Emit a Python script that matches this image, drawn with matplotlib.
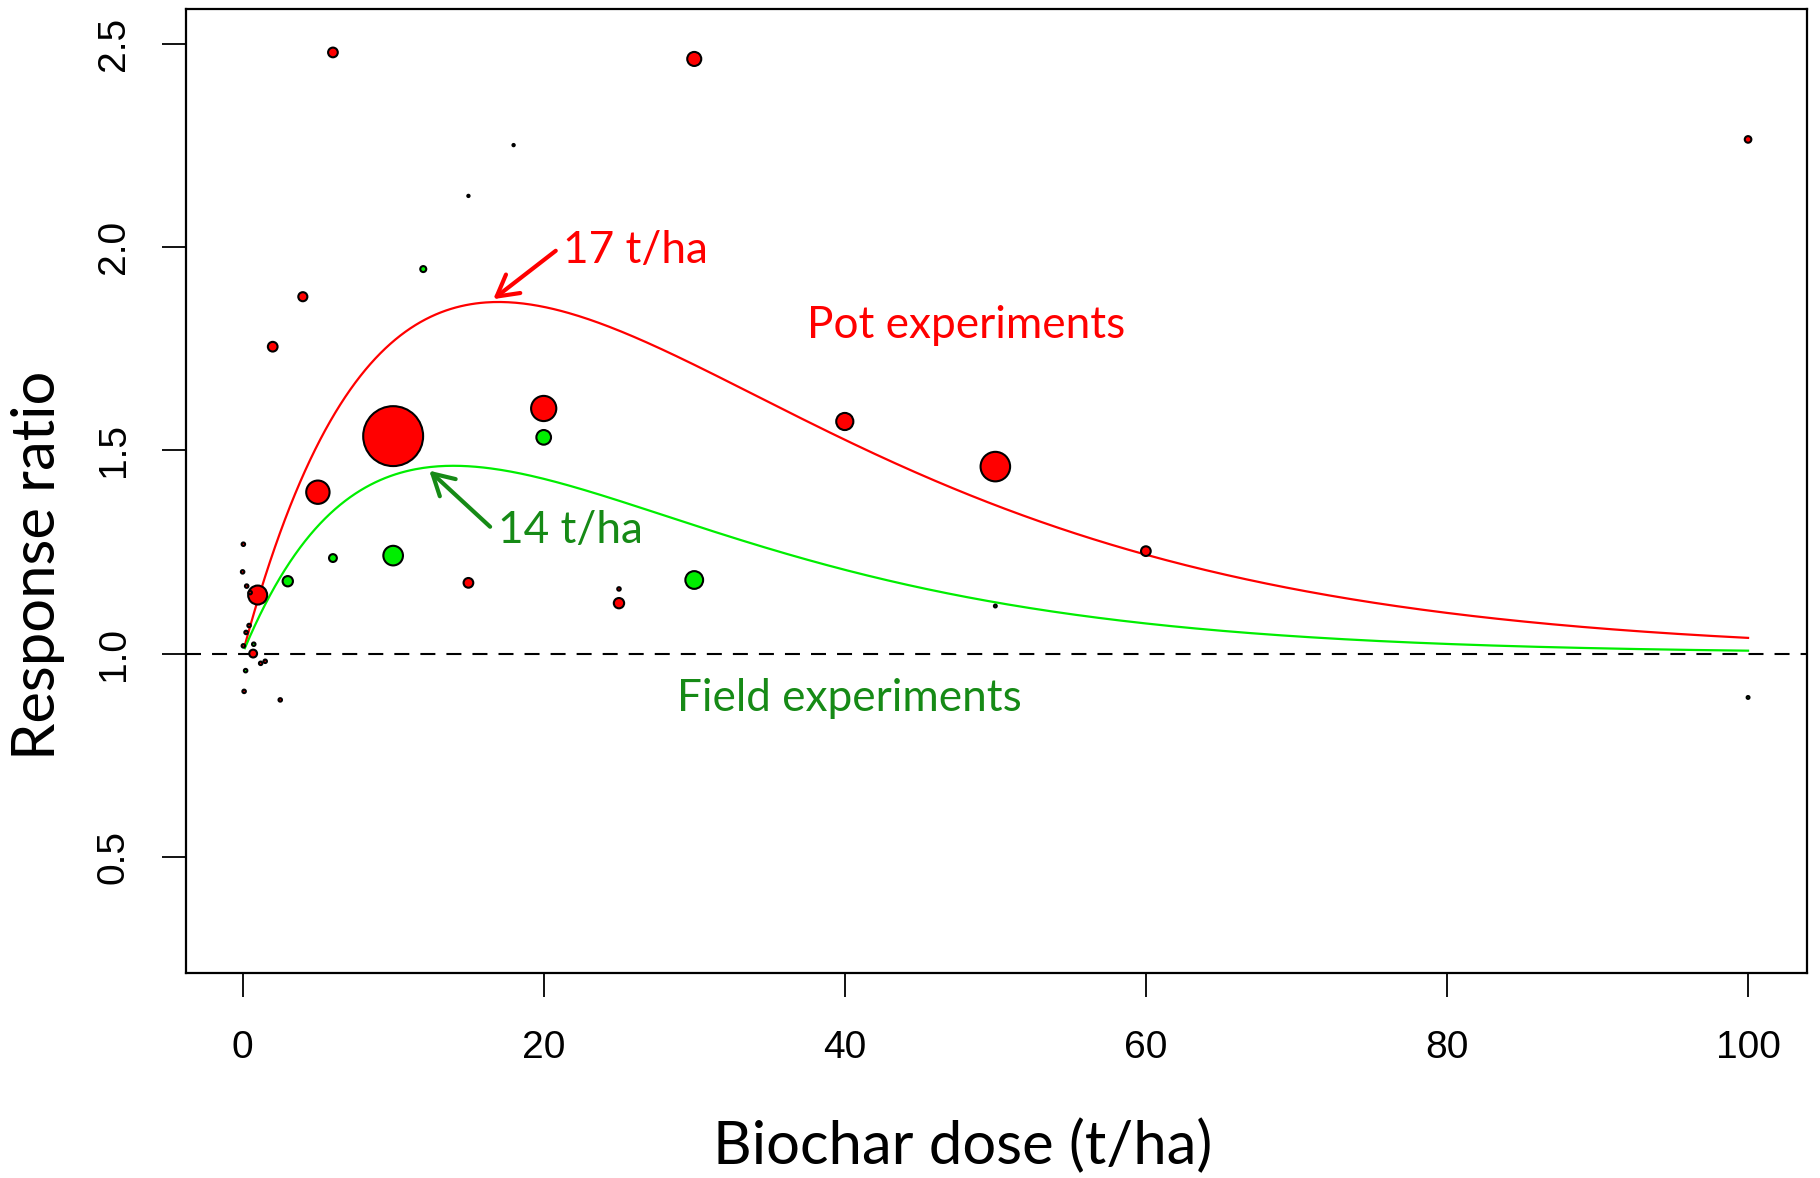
import numpy as np
import matplotlib
matplotlib.use("Agg")
import matplotlib.pyplot as plt

# ---------------- data ----------------
# Pot experiments (red): dose (t/ha), response ratio, relative weight (bubble radius, largest = 1)
pot_dose = [6, 30, 100, 4, 2, 10, 20, 40, 50, 60, 5, 1, 15, 25, 0.7,
            0.05, 0.0, 0.27, 0.5, 0.43, 0.23, 0.05, 1.2, 1.5, 0.1, 2.5, 25]
pot_ratio = [2.479, 2.463, 2.265, 1.878, 1.755, 1.535, 1.603, 1.571, 1.460, 1.252, 1.397, 1.144, 1.174, 1.124, 1.000,
             1.269, 1.201, 1.166, 1.150, 1.069, 1.052, 1.019, 0.976, 0.981, 0.907, 0.886, 1.159]
pot_weight = [0.19, 0.26, 0.14, 0.18, 0.19, 1.00, 0.44, 0.31, 0.51, 0.19, 0.41, 0.34, 0.19, 0.20, 0.16,
              0.09, 0.09, 0.09, 0.09, 0.09, 0.09, 0.09, 0.09, 0.09, 0.09, 0.09, 0.09]

# Field experiments (green)
field_dose = [12, 20, 10, 30, 6, 3, 0.74, 0.2, 18, 15, 50, 100]
field_ratio = [1.946, 1.532, 1.241, 1.181, 1.235, 1.178, 1.023, 0.958, 2.251, 2.126, 1.117, 0.892]
field_weight = [0.13, 0.27, 0.35, 0.32, 0.16, 0.20, 0.09, 0.09, 0.07, 0.07, 0.08, 0.08]

# Fitted response curves: y = 1 + a * x * exp(-x / b), optimum dose b, peak ratio at b
pot_opt_dose, pot_peak = 17.0, 1.865
field_opt_dose, field_peak = 14.0, 1.462
curve_start, curve_end = 0.15, 100.0

x_ticks = [0, 20, 40, 60, 80, 100]
y_ticks = [0.5, 1.0, 1.5, 2.0, 2.5]

# ---------------- styling ----------------
DPI = 100
RMAX_PX = 31.0
EDGE_PT = 1.5
RED = "#ff0000"
LIME = "#00ee00"
DKGREEN = "#168a16"
ANNOT_FONT = ["Lato", "DejaVu Sans"]
TICK_FONT = ["Liberation Sans", "DejaVu Sans"]

fig = plt.figure(figsize=(18.2, 11.78), dpi=DPI)
ax = fig.add_axes([0.1022, 0.174, 0.9929 - 0.1022, 0.9924 - 0.174])


def curve(opt, peak, x):
    a = (peak - 1.0) * np.e / opt
    return 1.0 + a * x * np.exp(-x / opt)


xs = np.linspace(curve_start, curve_end, 600)
ax.plot(xs, curve(pot_opt_dose, pot_peak, xs), color=RED, lw=1.6, zorder=2)
ax.plot(xs, curve(field_opt_dose, field_peak, xs), color=LIME, lw=1.6, zorder=2)

ax.axhline(1.0, color="black", lw=1.5, ls=(0, (7.2, 5.3)), zorder=1)


def sizes(w):
    r_pt = np.asarray(w) * RMAX_PX * 72.0 / DPI
    d = np.clip(2 * r_pt - EDGE_PT, 0.3, None)
    return d ** 2


ax.scatter(pot_dose, pot_ratio, s=sizes(pot_weight), c=RED, edgecolors="black",
           linewidths=EDGE_PT, zorder=3)
ax.scatter(field_dose, field_ratio, s=sizes(field_weight), c=LIME, edgecolors="black",
           linewidths=EDGE_PT, zorder=3)

# annotations
arrow_kw = dict(arrowstyle="->,head_length=0.75,head_width=0.42", lw=3.0,
                mutation_scale=20, shrinkA=0, shrinkB=0)
ax.annotate("", xy=(16.65, 1.872), xytext=(20.8, 1.991),
            arrowprops=dict(color=RED, **arrow_kw), zorder=4)
ax.annotate("", xy=(12.4, 1.45), xytext=(16.44, 1.312),
            arrowprops=dict(color=DKGREEN, **arrow_kw), zorder=4)

ANN_FS = 31.8
ax.text(21.3, 1.96, "17 t/ha", color=RED, fontsize=ANN_FS, family=ANNOT_FONT,
        ha="left", va="baseline")
ax.text(16.95, 1.273, "14 t/ha", color=DKGREEN, fontsize=ANN_FS, family=ANNOT_FONT,
        ha="left", va="baseline")
ax.text(37.5, 1.776, "Pot experiments", color=RED, fontsize=ANN_FS, family=ANNOT_FONT,
        ha="left", va="baseline")
ax.text(28.85, 0.859, "Field experiments", color=DKGREEN, fontsize=ANN_FS, family=ANNOT_FONT,
        ha="left", va="baseline")

# axes
ax.set_xlim(-3.76, 103.92)
ax.set_ylim(0.214, 2.586)
ax.set_xticks(x_ticks)
ax.set_xticklabels([str(v) for v in x_ticks], family=TICK_FONT, fontsize=28)
ax.set_yticks(y_ticks)
ax.set_yticklabels([f"{v:.1f}" for v in y_ticks], family=TICK_FONT, fontsize=28)
for lab in ax.get_yticklabels():
    lab.set_rotation(90)
    lab.set_va("center")
ax.tick_params(axis="both", direction="out", length=17, width=1.3, colors="black")
ax.tick_params(axis="x", pad=24)
ax.tick_params(axis="y", pad=22)
for sp in ax.spines.values():
    sp.set_linewidth(1.6)

fig.text(0.529, 0.0119, "Biochar dose (t/ha)", fontsize=43, family=ANNOT_FONT,
         ha="center", va="baseline")
fig.text(0.030, 0.520, "Response ratio", fontsize=43, family=ANNOT_FONT,
         ha="center", va="baseline", rotation=90, rotation_mode="anchor")

fig.savefig("out.png", dpi=DPI)
